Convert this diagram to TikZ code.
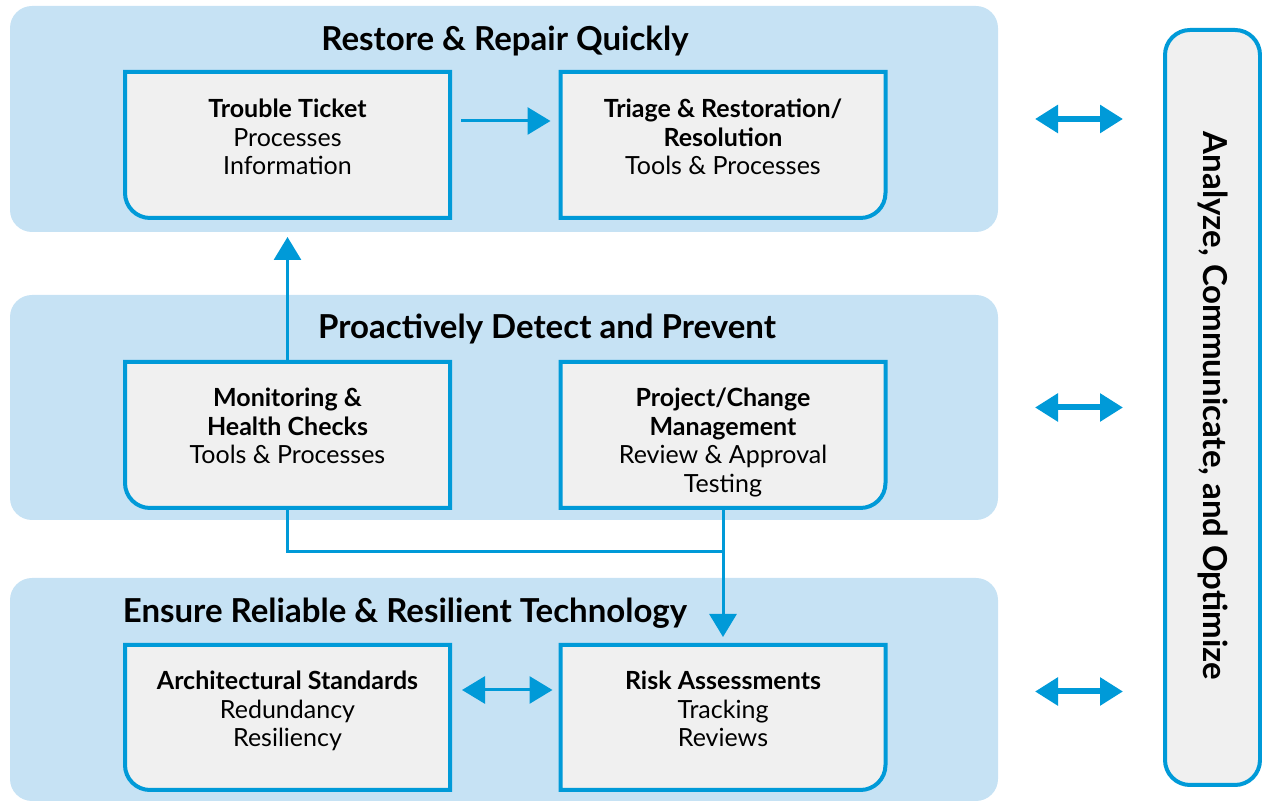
\documentclass[tikz,border=0pt]{standalone}
\usepackage{fontspec}
\setmainfont{Lato}
\usetikzlibrary{arrows.meta,calc}
\pgfdeclarelayer{back}
\pgfdeclarelayer{mid}
\pgfsetlayers{back,mid,main}
\definecolor{itblue}{RGB}{0,154,216}
\definecolor{bandfill}{RGB}{198,226,244}
\definecolor{cardfill}{RGB}{240,240,240}
\tikzset{
  x=1pt, y=1pt,
  band/.style={rectangle, minimum width=988pt, inner sep=0pt, outer sep=0pt},
  card/.style={rectangle, minimum width=325pt, minimum height=146pt, inner sep=0pt, outer sep=0pt},
  cardline/.style={draw=itblue, line width=4pt, fill=cardfill},
  cardtext/.style={anchor=north, align=center, inner sep=0pt,
    font=\fontsize{25}{28.5}\selectfont},
  bandtitle/.style={inner sep=0pt, font=\fontsize{33}{36}\selectfont\bfseries},
  conn/.style={draw=itblue, line width=3pt},
  arr/.style={conn, -{Triangle[length=23pt,width=27pt]}},
  darr/.style={conn, {Triangle[length=23pt,width=27pt]}-{Triangle[length=23pt,width=27pt]}},
  sidearr/.style={draw=itblue, line width=6pt, {Triangle[length=23pt,width=27pt]}-{Triangle[length=23pt,width=27pt]}},
}
% card with the lower left corner rounded
\newcommand{\leftcardshape}[1]{%
  \fill[cardline] (#1.north west) -- (#1.north east) -- (#1.south east)
    -- ([xshift=25pt]#1.south west) arc[start angle=270, end angle=180, radius=25pt] -- cycle;}
% card with the lower right corner rounded
\newcommand{\rightcardshape}[1]{%
  \fill[cardline] (#1.north west) -- (#1.north east) -- ([yshift=25pt]#1.south east)
    arc[start angle=0, end angle=-90, radius=25pt] -- (#1.south west) -- cycle;}
\begin{document}
\begin{tikzpicture}
\useasboundingbox (0,0) rectangle (1262,802);

% three horizontal bands
\node[band, minimum height=226pt] (b1) at (504,683) {};
\node[band, minimum height=225pt] (b2) at (504,394.5) {};
\node[band, minimum height=223pt] (b3) at (504,112.5) {};
\begin{pgfonlayer}{back}
  \foreach \b in {b1,b2,b3}
    \fill[bandfill, rounded corners=22pt] (\b.south west) rectangle (\b.north east);
\end{pgfonlayer}

\node[bandtitle] (t1) at (505,761) {Restore \& Repair Quickly};
\node[bandtitle] (t2) at (547,473) {Proactively Detect and Prevent};
\node[bandtitle] (t3) at (405,189) {Ensure Reliable \& Resilient Technology};

% cards
\node[card] (tt)   at (287.5,657) {};
\node[card] (tri)  at (723,657) {};
\node[card] (mon)  at (287.5,367) {};
\node[card] (prj)  at (723,367) {};
\node[card, minimum height=145pt] (arch) at (287.5,84.5) {};
\node[card, minimum height=145pt] (risk) at (723,84.5) {};
\begin{pgfonlayer}{mid}
  \leftcardshape{tt}
  \rightcardshape{tri}
  \leftcardshape{mon}
  \rightcardshape{prj}
  \leftcardshape{arch}
  \rightcardshape{risk}
\end{pgfonlayer}

\node[cardtext] (tt-t)   at ([yshift=-27pt]tt.north)   {\textbf{Trouble Ticket}\\Processes\\Information};
\node[cardtext] (tri-t)  at ([yshift=-27pt]tri.north)  {\textbf{Triage \& Restoration/}\\\textbf{Resolution}\\Tools \& Processes};
\node[cardtext] (mon-t)  at ([yshift=-26pt]mon.north)  {\textbf{Monitoring \&}\\\textbf{Health Checks}\\Tools \& Processes};
\node[cardtext] (prj-t)  at ([yshift=-26pt]prj.north)  {\textbf{Project/Change}\\\textbf{Management}\\Review \& Approval\\Testing};
\node[cardtext] (arch-t) at ([yshift=-26pt]arch.north) {\textbf{Architectural Standards}\\Redundancy\\Resiliency};
\node[cardtext] (risk-t) at ([yshift=-26pt]risk.north) {\textbf{Risk Assessments}\\Tracking\\Reviews};

% side panel
\node[rectangle, minimum width=95pt, minimum height=755pt, inner sep=0pt,
      draw=itblue, line width=4pt, fill=cardfill, rounded corners=25pt] (side) at (1212.5,394.5) {};
\node[rotate=-90, inner sep=0pt, font=\fontsize{33}{36}\selectfont\bfseries] (side-t)
  at (1213,396) {Analyze, Communicate, and Optimize};

% connectors
\draw[arr] ([shift={(11pt,24pt)}]tt.east) -- ([shift={(-10pt,24pt)}]tri.west);
\draw[arr] (mon.north) -- ([yshift=-19pt]tt.south);
\draw[conn] (mon.south) -- ++(0,-44) coordinate (jn) -| (prj.south);
\draw[arr] (prj.south) -- ([yshift=8pt]risk.north);
\draw[darr] ([shift={(12pt,27.5pt)}]arch.east) -- ([shift={(-8pt,27.5pt)}]risk.west);

% links between each band and the side panel
\draw[sidearr] ([xshift=37pt]b1.east) -- ([xshift=-40pt]side.west |- b1.east);
\draw[sidearr] ([xshift=37pt]b2.east) -- ([xshift=-40pt]side.west |- b2.east);
\draw[sidearr] ([shift={(37pt,-2pt)}]b3.east) -- ([shift={(-40pt,-2pt)}]side.west |- b3.east);
\end{tikzpicture}
\end{document}
